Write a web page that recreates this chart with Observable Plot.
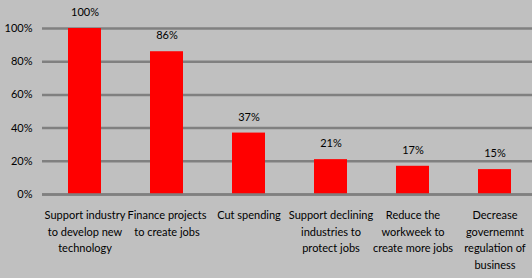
<!DOCTYPE html>
<html>
<head>
<meta charset="utf-8">
<script src="https://cdn.jsdelivr.net/npm/d3@7"></script>
<script src="https://cdn.jsdelivr.net/npm/@observablehq/plot@0.6"></script>
<style>
  html, body { margin: 0; padding: 0; background: #c0c0c0; }
  #chart svg { display: block; }
</style>
</head>
<body>
<div id="chart"></div>
<script>
const categories = [
  "Support industry\nto develop new\ntechnology",
  "Finance projects\nto create jobs",
  "Cut spending",
  "Support declining\nindustries to\nprotect jobs",
  "Reduce the\nworkweek to\ncreate more jobs",
  "Decrease\ngovernemnt\nregulation of\nbusiness"
];
const values = [100, 86, 37, 21, 17, 15];
const yTicks = [0, 20, 40, 60, 80, 100];

const data = categories.map((c, i) => ({category: c, value: values[i]}));

const chart = Plot.plot({
  width: 532,
  height: 278,
  marginLeft: 42,
  marginRight: 0,
  marginTop: 28,
  marginBottom: 84,
  style: {background: "#c0c0c0", fontFamily: "Lato, 'Open Sans', sans-serif", fontSize: "11px", color: "#000"},
  x: {type: "band", domain: categories, range: [41.67, 537.67], paddingInner: 0.6, paddingOuter: 0.3, axis: null},
  y: {domain: [0, 100], range: [194, 28], axis: null},
  marks: [
    Plot.ruleY(yTicks, {stroke: "#808080", strokeWidth: 2.5}),
    Plot.barY(data, {x: "category", y: "value", fill: "#ff0000"}),
    Plot.ruleY([0], {stroke: "#808080", strokeWidth: 2.5}),
    Plot.text(yTicks, {y: d => d, text: d => d + "%", frameAnchor: "left", textAnchor: "end", dx: -10, fill: "#000", fontSize: 11}),
    Plot.text(data, {x: "category", y: "value", text: d => d.value + "%", dy: -16, fill: "#000", fontSize: 11}),
    Plot.text(data, {x: "category", y: () => 0, text: "category", lineAnchor: "top", dy: 13, lineHeight: 1.5, fill: "#000", fontSize: 11})
  ]
});
document.getElementById("chart").appendChild(chart);
</script>
</body>
</html>
